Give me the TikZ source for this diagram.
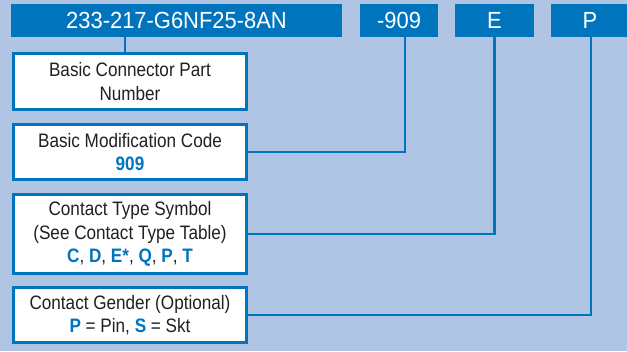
\documentclass[tikz,border=0pt]{standalone}
\usepackage{fontspec}
\setmainfont{Liberation Sans}[FakeStretch=0.88]
\newfontfamily\barfont{Liberation Sans}[FakeStretch=0.94]
\definecolor{bgblue}{HTML}{B0C5E4}
\definecolor{codeblue}{HTML}{0075BE}
\definecolor{inkblack}{HTML}{231F20}
\newcommand{\hl}[1]{\textbf{\color{codeblue}#1}}
\tikzset{
  codebar/.style={fill=codeblue, text=white, inner sep=0pt, minimum height=24.75pt,
    font=\barfont\fontsize{17.5}{20}\selectfont},
  descbox/.style={draw=codeblue, line width=2.2pt, fill=white, text=inkblack, inner sep=0pt,
    minimum width=174.75pt, align=center, font=\fontsize{14.6}{17.4}\selectfont},
  leader/.style={draw=codeblue, line width=1.9pt}
}
\begin{document}
\begin{tikzpicture}[x=0.75pt,y=0.75pt,yscale=-1,xscale=1]
                  \fill[bgblue] (0,0) rectangle (627,351);
                  \useasboundingbox (0,0) rectangle (627,351);

                  \node[codebar, minimum width=248.25pt] (barpart) at (176.5,20.5) {233-217-G6NF25-8AN};
                  \node[codebar, minimum width=58.5pt] (barmod) at (399,20.5) {-909};
                  \node[codebar, minimum width=59.25pt] (bartype) at (494.5,20.5) {E};
                  \node[codebar, minimum width=58.5pt] (bargender) at (590,20.5) {P};

                  \node[descbox, minimum height=42pt] (boxpart) at (130,81.5) {Basic Connector Part\\Number};
                  \node[descbox, minimum height=41.25pt] (boxmod) at (130,152) {Basic Modification Code\\\hl{909}};
                  \node[descbox, minimum height=59.25pt] (boxtype) at (130,234) {Contact Type Symbol\\(See Contact Type Table)\\\hl{C}, \hl{D}, \hl{E*}, \hl{Q}, \hl{P}, \hl{T}};
                  \node[descbox, minimum height=41.25pt] (boxgender) at (130,315) {Contact Gender (Optional)\\\hl{P} = Pin, \hl{S} = Skt};

                  \draw[leader] ([xshift=-3.75pt]boxpart.north) -- ([xshift=-3.75pt]boxpart.north |- barpart.south);
                  \draw[leader] ([xshift=4.5pt]barmod.south) |- (boxmod.east);
                  \draw[leader] (bartype.south) |- (boxtype.east);
                  \draw[leader] ([xshift=0.75pt]bargender.south) |- (boxgender.east);
              \end{tikzpicture}
\end{document}
